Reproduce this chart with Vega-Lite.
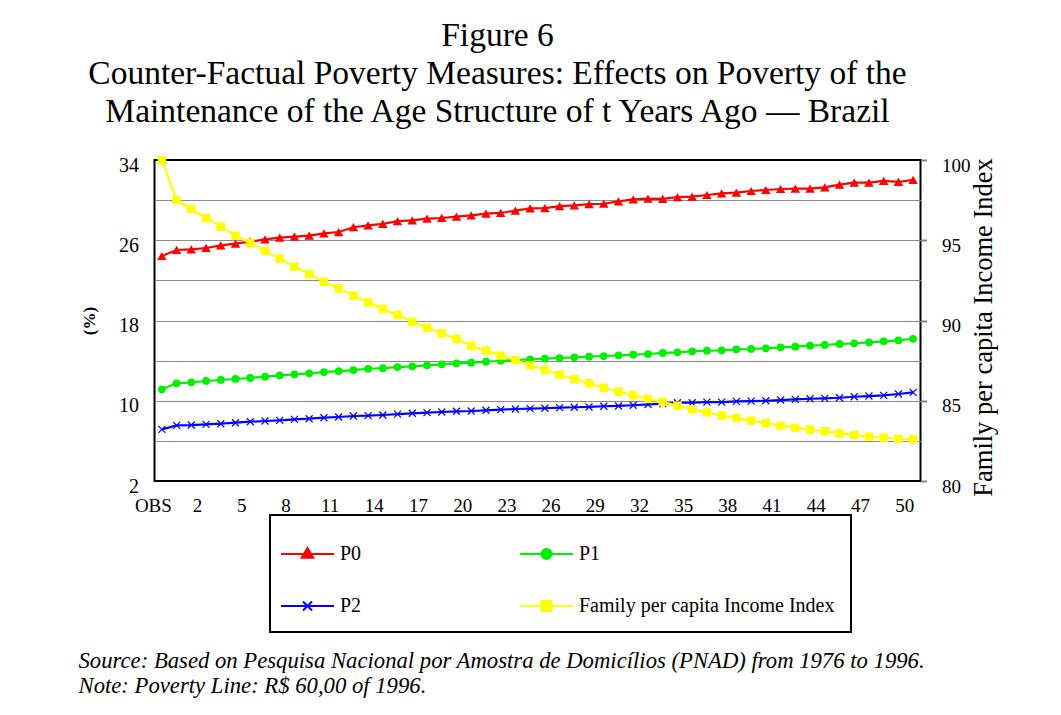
{
  "$schema": "https://vega.github.io/schema/vega-lite/v6.json",
  "width": 766,
  "height": 321,
  "autosize": {"type": "none"},
  "padding": {"left": 154.5, "top": 160, "right": 140.5, "bottom": 234},
  "background": "white",
  "title": {
    "text": ["Figure 6", "Counter-Factual Poverty Measures: Effects on Poverty of the", "Maintenance of the Age Structure of t Years Ago — Brazil"],
    "font": "Liberation Serif",
    "fontSize": 33.5,
    "fontWeight": "normal",
    "lineHeight": 38,
    "anchor": "middle",
    "frame": "group",
    "dx": -40,
    "offset": 26,
    "color": "black"
  },
  "data": {
    "values": [
      {"obs": "OBS", "P0": 24.43, "P1": 11.14, "P2": 7.15, "income": 100.0},
      {"obs": "0", "P0": 25.03, "P1": 11.74, "P2": 7.55, "income": 97.51},
      {"obs": "1", "P0": 25.10, "P1": 11.84, "P2": 7.58, "income": 96.95},
      {"obs": "2", "P0": 25.23, "P1": 11.97, "P2": 7.65, "income": 96.39},
      {"obs": "3", "P0": 25.49, "P1": 12.07, "P2": 7.71, "income": 95.85},
      {"obs": "4", "P0": 25.66, "P1": 12.17, "P2": 7.81, "income": 95.28},
      {"obs": "5", "P0": 25.86, "P1": 12.27, "P2": 7.91, "income": 94.83},
      {"obs": "6", "P0": 26.09, "P1": 12.40, "P2": 7.98, "income": 94.33},
      {"obs": "7", "P0": 26.26, "P1": 12.53, "P2": 8.05, "income": 93.85},
      {"obs": "8", "P0": 26.36, "P1": 12.63, "P2": 8.15, "income": 93.35},
      {"obs": "9", "P0": 26.46, "P1": 12.73, "P2": 8.21, "income": 92.90},
      {"obs": "10", "P0": 26.69, "P1": 12.86, "P2": 8.31, "income": 92.42},
      {"obs": "11", "P0": 26.82, "P1": 12.96, "P2": 8.38, "income": 92.00},
      {"obs": "12", "P0": 27.30, "P1": 13.06, "P2": 8.48, "income": 91.55},
      {"obs": "13", "P0": 27.49, "P1": 13.19, "P2": 8.51, "income": 91.13},
      {"obs": "14", "P0": 27.64, "P1": 13.25, "P2": 8.58, "income": 90.72},
      {"obs": "15", "P0": 27.90, "P1": 13.36, "P2": 8.66, "income": 90.33},
      {"obs": "16", "P0": 27.99, "P1": 13.43, "P2": 8.75, "income": 89.93},
      {"obs": "17", "P0": 28.15, "P1": 13.53, "P2": 8.81, "income": 89.55},
      {"obs": "18", "P0": 28.22, "P1": 13.63, "P2": 8.88, "income": 89.20},
      {"obs": "19", "P0": 28.35, "P1": 13.73, "P2": 8.95, "income": 88.85},
      {"obs": "20", "P0": 28.48, "P1": 13.80, "P2": 8.98, "income": 88.43},
      {"obs": "21", "P0": 28.65, "P1": 13.89, "P2": 9.05, "income": 88.12},
      {"obs": "22", "P0": 28.72, "P1": 13.99, "P2": 9.11, "income": 87.81},
      {"obs": "23", "P0": 28.95, "P1": 14.06, "P2": 9.18, "income": 87.54},
      {"obs": "24", "P0": 29.18, "P1": 14.13, "P2": 9.21, "income": 87.21},
      {"obs": "25", "P0": 29.21, "P1": 14.19, "P2": 9.25, "income": 86.92},
      {"obs": "26", "P0": 29.41, "P1": 14.26, "P2": 9.31, "income": 86.62},
      {"obs": "27", "P0": 29.48, "P1": 14.33, "P2": 9.35, "income": 86.34},
      {"obs": "28", "P0": 29.61, "P1": 14.39, "P2": 9.38, "income": 86.09},
      {"obs": "29", "P0": 29.64, "P1": 14.46, "P2": 9.45, "income": 85.81},
      {"obs": "30", "P0": 29.88, "P1": 14.53, "P2": 9.48, "income": 85.56},
      {"obs": "31", "P0": 30.08, "P1": 14.59, "P2": 9.55, "income": 85.34},
      {"obs": "32", "P0": 30.14, "P1": 14.66, "P2": 9.63, "income": 85.11},
      {"obs": "33", "P0": 30.12, "P1": 14.77, "P2": 9.72, "income": 84.93},
      {"obs": "34", "P0": 30.29, "P1": 14.83, "P2": 9.80, "income": 84.69},
      {"obs": "35", "P0": 30.34, "P1": 14.93, "P2": 9.80, "income": 84.47},
      {"obs": "36", "P0": 30.51, "P1": 14.99, "P2": 9.87, "income": 84.28},
      {"obs": "37", "P0": 30.68, "P1": 15.03, "P2": 9.87, "income": 84.07},
      {"obs": "38", "P0": 30.74, "P1": 15.13, "P2": 9.94, "income": 83.93},
      {"obs": "39", "P0": 30.91, "P1": 15.16, "P2": 9.97, "income": 83.76},
      {"obs": "40", "P0": 31.01, "P1": 15.23, "P2": 10.00, "income": 83.61},
      {"obs": "41", "P0": 31.11, "P1": 15.33, "P2": 10.07, "income": 83.45},
      {"obs": "42", "P0": 31.14, "P1": 15.39, "P2": 10.14, "income": 83.32},
      {"obs": "43", "P0": 31.14, "P1": 15.49, "P2": 10.20, "income": 83.20},
      {"obs": "44", "P0": 31.28, "P1": 15.56, "P2": 10.24, "income": 83.10},
      {"obs": "45", "P0": 31.54, "P1": 15.66, "P2": 10.30, "income": 82.97},
      {"obs": "46", "P0": 31.74, "P1": 15.72, "P2": 10.40, "income": 82.87},
      {"obs": "47", "P0": 31.74, "P1": 15.82, "P2": 10.47, "income": 82.76},
      {"obs": "48", "P0": 31.91, "P1": 15.92, "P2": 10.54, "income": 82.70},
      {"obs": "49", "P0": 31.81, "P1": 16.02, "P2": 10.67, "income": 82.63},
      {"obs": "50", "P0": 32.01, "P1": 16.18, "P2": 10.84, "income": 82.60}
    ]
  },
  "encoding": {
    "x": {
      "field": "obs",
      "type": "ordinal",
      "sort": null,
      "scale": {"type": "point", "padding": 0.5},
      "axis": {
        "values": ["OBS", "2", "5", "8", "11", "14", "17", "20", "23", "26", "29", "32", "35", "38", "41", "44", "47", "50"],
        "labelAngle": 0,
        "ticks": false,
        "domain": false,
        "grid": false,
        "labelPadding": 15,
        "labelOffset": -9,
        "labelFont": "Liberation Serif",
        "labelFontSize": 19,
        "labelColor": "black",
        "title": ["Source: Based on Pesquisa Nacional por Amostra de Domicílios (PNAD) from 1976 to 1996.", "Note: Poverty Line: R$ 60,00 of 1996."],
        "titleFont": "Liberation Serif",
        "titleFontSize": 22.7,
        "titleFontStyle": "italic",
        "titleFontWeight": "normal",
        "titleColor": "black",
        "titleAlign": "left",
        "titleAnchor": "start",
        "titleBaseline": "alphabetic",
        "titleX": -76.5,
        "titleY": 186,
        "titleLineHeight": 25
      }
    }
  },
  "layer": [
    {
      "layer": [
        {
          "mark": {"type": "line", "color": "#ff0000", "strokeWidth": 2.2, "point": {"shape": "triangle-up", "size": 90, "filled": true, "fill": "#ff0000", "opacity": 1}},
          "encoding": {
            "y": {
              "field": "P0",
              "type": "quantitative",
              "scale": {"domain": [2, 34], "nice": false, "zero": false},
              "axis": {"title": "(%)", "titleFont": "Liberation Serif", "titleFontSize": 17, "titleFontWeight": "bold", "titleColor": "black", "titlePadding": 20, "values": [2, 6, 10, 14, 18, 22, 26, 30, 34], "labelExpr": "(datum.value - 2) % 8 == 0 ? datum.label : ''", "grid": true, "gridColor": "#8a8a8a", "gridWidth": 1.2, "gridOpacity": {"condition": {"test": "datum.value == 2 || datum.value == 34", "value": 0}, "value": 1}, "ticks": false, "domain": false, "labelPadding": 16, "labelOffset": 5, "labelFont": "Liberation Serif", "labelFontSize": 20, "labelColor": "black"}
            }
          }
        },
        {
          "mark": {"type": "line", "color": "#00f000", "strokeWidth": 2.2, "point": {"shape": "circle", "size": 60, "filled": true, "fill": "#00f000", "opacity": 1}},
          "encoding": {
            "y": {
              "field": "P1",
              "type": "quantitative",
              "scale": {"domain": [2, 34], "nice": false, "zero": false},
              "axis": {"title": "(%)", "titleFont": "Liberation Serif", "titleFontSize": 17, "titleFontWeight": "bold", "titleColor": "black", "titlePadding": 20, "values": [2, 6, 10, 14, 18, 22, 26, 30, 34], "labelExpr": "(datum.value - 2) % 8 == 0 ? datum.label : ''", "grid": true, "gridColor": "#8a8a8a", "gridWidth": 1.2, "gridOpacity": {"condition": {"test": "datum.value == 2 || datum.value == 34", "value": 0}, "value": 1}, "ticks": false, "domain": false, "labelPadding": 16, "labelOffset": 5, "labelFont": "Liberation Serif", "labelFontSize": 20, "labelColor": "black"}
            }
          }
        },
        {
          "mark": {"type": "line", "color": "#0000ff", "strokeWidth": 2.2, "point": {"shape": "M-1,-1L1,1M-1,1L1,-1", "size": 49, "filled": false, "stroke": "#0000ff", "strokeWidth": 1.2, "opacity": 1}},
          "encoding": {
            "y": {
              "field": "P2",
              "type": "quantitative",
              "scale": {"domain": [2, 34], "nice": false, "zero": false},
              "axis": {"title": "(%)", "titleFont": "Liberation Serif", "titleFontSize": 17, "titleFontWeight": "bold", "titleColor": "black", "titlePadding": 20, "values": [2, 6, 10, 14, 18, 22, 26, 30, 34], "labelExpr": "(datum.value - 2) % 8 == 0 ? datum.label : ''", "grid": true, "gridColor": "#8a8a8a", "gridWidth": 1.2, "gridOpacity": {"condition": {"test": "datum.value == 2 || datum.value == 34", "value": 0}, "value": 1}, "ticks": false, "domain": false, "labelPadding": 16, "labelOffset": 5, "labelFont": "Liberation Serif", "labelFontSize": 20, "labelColor": "black"}
            }
          }
        }
      ]
    },
    {
      "mark": {"type": "line", "color": "#ffff00", "strokeWidth": 2.2, "point": {"shape": "square", "size": 72, "filled": true, "fill": "#ffff00", "opacity": 1}},
      "encoding": {
        "y": {
          "field": "income",
          "type": "quantitative",
          "scale": {"domain": [80, 100], "nice": false, "zero": false},
          "axis": {
            "orient": "right",
            "title": "Family per capita Income Index",
            "titleFont": "Liberation Serif",
            "titleFontSize": 26.5,
            "titleFontWeight": "normal",
            "titleColor": "black",
            "titleAngle": 270,
            "titleX": 63,
            "titleY": 167,
            "titleBaseline": "middle",
            "titleAlign": "center",
            "values": [80, 85, 90, 95, 100],
            "grid": false,
            "ticks": true,
            "tickColor": "#888888",
            "tickWidth": 2,
            "tickSize": 6,
            "domain": false,
            "labelPadding": 15,
            "labelOffset": 5,
            "labelFont": "Liberation Serif",
            "labelFontSize": 19,
            "labelColor": "black"
          }
        }
      }
    },
    {
      "transform": [
        {"fold": ["P0", "P1", "P2", "income"], "as": ["key", "value"]},
        {"filter": "false"}
      ],
      "mark": {"type": "point", "filled": true, "opacity": 1, "size": 64, "strokeWidth": 2},
      "encoding": {
        "shape": {
          "field": "key",
          "type": "nominal",
          "scale": {
            "domain": ["P0", "P1", "P2", "Family per capita Income Index"],
            "range": [
              "M-3,0L7.6,0M2.3,-1.2L3.45,0.75L1.15,0.75Z",
              "M-3,0L7.6,0M1.3,0A1,1 0 1,0 3.3,0A1,1 0 1,0 1.3,0Z",
              "M-3,0L7.6,0M1.4,-0.9L3.2,0.9M1.4,0.9L3.2,-0.9",
              "M-3,0L7.6,0M1.3,-1L3.3,-1L3.3,1L1.3,1Z"
            ]
          },
          "legend": {"title": " ", "titleFontSize": 5, "titlePadding": 8, "orient": "none", "direction": "horizontal", "legendX": 115.5, "legendY": 355, "columns": 2, "columnPadding": 154, "rowPadding": 32, "padding": 16, "strokeColor": "black", "labelFont": "Liberation Serif", "labelFontSize": 20, "labelColor": "black", "labelOffset": 34, "labelLimit": 400, "symbolStrokeWidth": 2}
        },
        "fill": {
          "field": "key",
          "type": "nominal",
          "scale": {"domain": ["P0", "P1", "P2", "Family per capita Income Index"], "range": ["#ff0000", "#00f000", "#0000ff", "#ffff00"]},
          "legend": {"title": " ", "titleFontSize": 5, "titlePadding": 8, "orient": "none", "direction": "horizontal", "legendX": 115.5, "legendY": 355, "columns": 2, "columnPadding": 154, "rowPadding": 32, "padding": 16, "strokeColor": "black", "labelFont": "Liberation Serif", "labelFontSize": 20, "labelColor": "black", "labelOffset": 34, "labelLimit": 400, "symbolStrokeWidth": 2}
        },
        "stroke": {
          "field": "key",
          "type": "nominal",
          "scale": {"domain": ["P0", "P1", "P2", "Family per capita Income Index"], "range": ["#ff0000", "#00f000", "#0000ff", "#ffff00"]},
          "legend": {"title": " ", "titleFontSize": 5, "titlePadding": 8, "orient": "none", "direction": "horizontal", "legendX": 115.5, "legendY": 355, "columns": 2, "columnPadding": 154, "rowPadding": 32, "padding": 16, "strokeColor": "black", "labelFont": "Liberation Serif", "labelFontSize": 20, "labelColor": "black", "labelOffset": 34, "labelLimit": 400, "symbolStrokeWidth": 2}
        }
      }
    }
  ],
  "resolve": {"scale": {"y": "independent"}},
  "config": {
    "font": "Liberation Serif",
    "view": {"stroke": "black", "strokeWidth": 2},
    "legend": {"strokeWidth": 2}
  }
}
